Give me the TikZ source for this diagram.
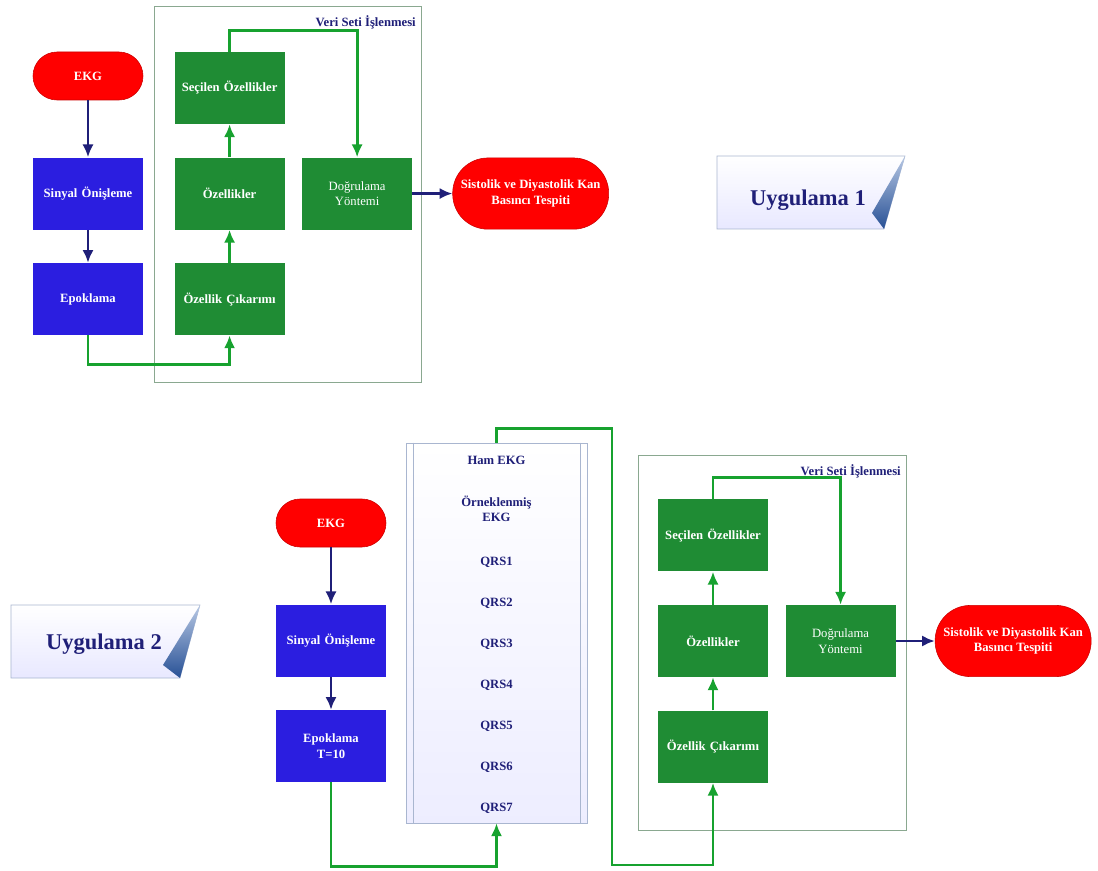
\documentclass[tikz,border=0pt]{standalone}
\usepackage{fontspec}
\setmainfont{Liberation Serif}
\usepackage{xcolor}
\usetikzlibrary{shapes,arrows,arrows.meta,positioning,calc}
\definecolor{ekgred}{HTML}{FF0000}
\definecolor{procblue}{HTML}{2B1EE0}
\definecolor{featgreen}{HTML}{1F8C34}
\definecolor{linkgreen}{HTML}{17A22F}
\definecolor{navy}{HTML}{1F1F78}
\definecolor{framegray}{HTML}{8AA890}
\definecolor{tagblue}{HTML}{2F5FB0}
\definecolor{tagedge}{HTML}{A9B6D0}

\begin{document}
\begin{tikzpicture}[
    node distance=0.825cm,
    boxfont/.style={font=\fontsize{9}{11}\selectfont\bfseries},
    proc/.style={rectangle, fill=procblue, text=white, text width=2.5cm, align=center, minimum width=2.75cm, minimum height=1.8cm, boxfont},
    feat/.style={rectangle, fill=featgreen, text=white, text width=2.5cm, align=center, minimum width=2.75cm, minimum height=1.8cm, boxfont},
    plain/.style={font=\fontsize{9}{11}\selectfont},
    terminal/.style={rectangle, rounded corners=0.6cm, fill=ekgred, draw=ekgred!80!black, text=white, align=center, minimum width=2.75cm, minimum height=1.2cm, boxfont},
    result/.style={terminal, rounded corners=0.88cm, minimum width=3.9cm, minimum height=1.78cm},
    setframe/.style={rectangle, draw=framegray, line width=0.6pt},
    settag/.style={text=navy, inner sep=1pt, boxfont},
    item/.style={text=navy, align=center, boxfont},
    uyg/.style={text=navy, font=\fontsize{16}{18}\selectfont\bfseries},
    arrow/.style={-{Latex[length=3.2mm,width=2.8mm]}, draw=navy, line width=2pt},
    glink/.style={-{Latex[length=3.2mm,width=2.8mm]}, draw=linkgreen, line width=2pt}
]
    \useasboundingbox (0,0) rectangle (27.45,-21.775);

    % Uygulama 1
    \node[setframe, minimum width=6.675cm, minimum height=9.4cm] (set1) at (7.1875,-4.85) {};
    \node[settag, anchor=north east] (tag1) at ($(set1.north east)+(-0.1,-0.2)$) {Veri Seti İşlenmesi};
    \node[terminal] (ekg1) at (2.2,-1.9) {EKG};
    \node[proc, below=1.425cm of ekg1] (sin1) {Sinyal Önişleme};
    \node[proc, below=of sin1] (epo1) {Epoklama};
    \node[feat, right=0.775cm of sin1] (oz1) {Özellikler};
    \node[feat, above=of oz1] (sec1) {Seçilen Özellikler};
    \node[feat, below=of oz1] (cik1) {Özellik Çıkarımı};
    \node[feat, plain, right=0.425cm of oz1] (dog1) {Doğrulama\\Yöntemi};
    \node[result, right=1cm of dog1] (sis1) {Sistolik ve Diyastolik Kan\\Basıncı Tespiti};

    \draw[arrow] (ekg1) -- (sin1);
    \draw[arrow] (sin1) -- (epo1);
    \draw[glink] (epo1.south) -- ++(0,-0.725) -| (cik1.south);
    \draw[glink] (cik1) -- (oz1);
    \draw[glink] (oz1) -- (sec1);
    \draw[glink] (sec1.north) -- ++(0,0.525) -| (dog1.north);
    \draw[arrow] (dog1) -- (sis1);

    \shade[top color=white, bottom color=blue!9, draw=tagedge] (17.925,-3.9) -- (22.625,-3.9) -- (22.1,-5.725) -- (17.925,-5.725) -- cycle;
    \shade[top color=tagblue!35!white, bottom color=tagblue!85!black] (22.625,-3.9) -- (22.1,-5.725) -- (21.8,-5.325) -- cycle;
    \node[uyg] (uyg1) at (20.2,-5.0) {Uygulama 1};

    % Uygulama 2
    \shade[top color=white, bottom color=blue!9, draw=tagedge] (0.275,-15.125) -- (5.0,-15.125) -- (4.5,-16.95) -- (0.275,-16.95) -- cycle;
    \shade[top color=tagblue!35!white, bottom color=tagblue!85!black] (5.0,-15.125) -- (4.5,-16.95) -- (4.075,-16.625) -- cycle;
    \node[uyg] (uyg2) at (2.6,-16.1) {Uygulama 2};

    \node[terminal] (ekg2) at (8.275,-13.075) {EKG};
    \node[proc, below=1.425cm of ekg2] (sin2) {Sinyal Önişleme};
    \node[proc, below=of sin2] (epo2) {Epoklama\\T=10};

    \node[rectangle, draw=tagedge, top color=white, bottom color=blue!7, minimum width=4.525cm, minimum height=9.5cm] (qrs) at (12.4125,-15.825) {};
    \draw[tagedge] ($(qrs.north west)+(0.2,0)$) -- ($(qrs.south west)+(0.2,0)$);
    \draw[tagedge] ($(qrs.north east)+(-0.175,0)$) -- ($(qrs.south east)+(-0.175,0)$);
    \node[item] (ham) at (12.4125,-11.5) {Ham EKG};
    \node[item] (ornek) at (12.4125,-12.725) {Örneklenmiş\\EKG};
    \foreach \i in {1,...,7}
        \node[item] (q\i) at (12.4125,{-14.05-1.025*(\i-1)}) {QRS\i};

    \node[setframe, minimum width=6.7cm, minimum height=9.375cm] (set2) at (19.3,-16.0625) {};
    \node[settag, anchor=north east] (tag2) at ($(set2.north east)+(-0.1,-0.2)$) {Veri Seti İşlenmesi};
    \node[feat] (oz2) at (17.825,-16.025) {Özellikler};
    \node[feat, above=of oz2] (sec2) {Seçilen Özellikler};
    \node[feat, below=of oz2] (cik2) {Özellik Çıkarımı};
    \node[feat, plain, right=0.425cm of oz2] (dog2) {Doğrulama\\Yöntemi};
    \node[result, right=0.975cm of dog2] (sis2) {Sistolik ve Diyastolik Kan\\Basıncı Tespiti};
    \coordinate (turn) at (15.3,-21.625);

    \draw[arrow] (ekg2) -- (sin2);
    \draw[arrow] (sin2) -- (epo2);
    \draw[glink] (epo2.south) -- ++(0,-2.1) -| (qrs.south);
    \draw[glink] (qrs.north) -- ++(0,0.35) -| (turn) -| (cik2.south);
    \draw[glink] (cik2) -- (oz2);
    \draw[glink] (oz2) -- (sec2);
    \draw[glink] (sec2.north) -- ++(0,0.55) -| (dog2.north);
    \draw[arrow] (dog2) -- (sis2);
\end{tikzpicture}
\end{document}
